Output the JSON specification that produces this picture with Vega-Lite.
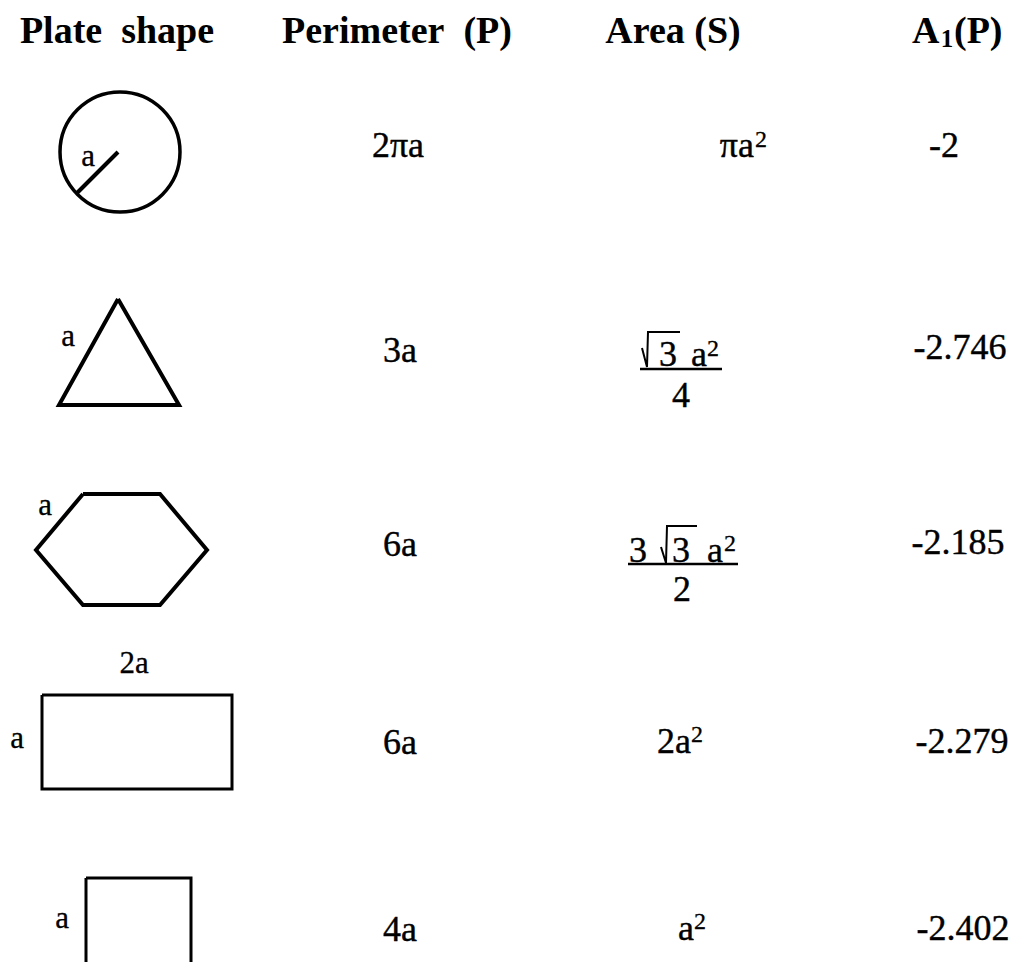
{
  "$schema": "https://vega.github.io/schema/vega-lite/v6.json",
  "width": 1018,
  "height": 962,
  "autosize": {"type": "fit", "contains": "padding"},
  "padding": 0,
  "background": "white",
  "config": {"view": {"stroke": null}, "font": "Liberation Serif"},
  "encoding": {
    "x": {"field": "x", "type": "quantitative", "scale": {"domain": [0, 1018], "nice": false, "zero": false}, "axis": null},
    "y": {"field": "y", "type": "quantitative", "scale": {"domain": [0, 962], "nice": false, "zero": false, "reverse": true}, "axis": null}
  },
  "layer": [
    {
      "data": {"values": [
        {"shape": "triangle", "i": 0, "x": 118, "y": 299},
        {"shape": "triangle", "i": 1, "x": 179, "y": 405},
        {"shape": "triangle", "i": 2, "x": 59, "y": 405},
        {"shape": "triangle", "i": 3, "x": 118, "y": 299},
        {"shape": "hexagon", "i": 0, "x": 83, "y": 494},
        {"shape": "hexagon", "i": 1, "x": 160, "y": 494},
        {"shape": "hexagon", "i": 2, "x": 207, "y": 550},
        {"shape": "hexagon", "i": 3, "x": 160, "y": 605},
        {"shape": "hexagon", "i": 4, "x": 83, "y": 605},
        {"shape": "hexagon", "i": 5, "x": 36, "y": 550},
        {"shape": "hexagon", "i": 6, "x": 83, "y": 494},
        {"shape": "radius", "i": 0, "x": 77, "y": 193},
        {"shape": "radius", "i": 1, "x": 118, "y": 152}
      ]},
      "mark": {"type": "line", "color": "black", "strokeWidth": 4, "strokeJoin": "miter", "strokeCap": "butt"},
      "encoding": {"detail": {"field": "shape"}, "order": {"field": "i", "type": "quantitative"}}
    },
    {
      "data": {"values": [
        {"shape": "rectangle", "i": 0, "x": 42, "y": 695},
        {"shape": "rectangle", "i": 1, "x": 232, "y": 695},
        {"shape": "rectangle", "i": 2, "x": 232, "y": 789},
        {"shape": "rectangle", "i": 3, "x": 42, "y": 789},
        {"shape": "rectangle", "i": 4, "x": 42, "y": 695},
        {"shape": "square", "i": 0, "x": 86, "y": 878},
        {"shape": "square", "i": 1, "x": 191, "y": 878},
        {"shape": "square", "i": 2, "x": 191, "y": 983},
        {"shape": "square", "i": 3, "x": 86, "y": 983},
        {"shape": "square", "i": 4, "x": 86, "y": 878}
      ]},
      "mark": {"type": "line", "color": "black", "strokeWidth": 3, "strokeJoin": "miter", "clip": true},
      "encoding": {"detail": {"field": "shape"}, "order": {"field": "i", "type": "quantitative"}}
    },
    {
      "data": {"values": [{"x": 120, "y": 152}]},
      "mark": {"type": "point", "shape": "circle", "size": 14400, "filled": false, "color": "black", "strokeWidth": 3.5, "opacity": 1}
    },
    {
      "data": {"values": [
        {"r": "tri", "i": 0, "x": 642, "y": 348},
        {"r": "tri", "i": 1, "x": 647, "y": 367},
        {"r": "tri", "i": 2, "x": 648, "y": 332},
        {"r": "tri", "i": 3, "x": 680, "y": 332},
        {"r": "hex", "i": 0, "x": 661, "y": 547},
        {"r": "hex", "i": 1, "x": 666, "y": 563},
        {"r": "hex", "i": 2, "x": 667, "y": 526},
        {"r": "hex", "i": 3, "x": 697, "y": 526}
      ]},
      "mark": {"type": "line", "color": "black", "strokeWidth": 2, "strokeJoin": "miter"},
      "encoding": {"detail": {"field": "r"}, "order": {"field": "i", "type": "quantitative"}}
    },
    {
      "data": {"values": [
        {"x": 640, "x2": 722, "y": 369},
        {"x": 628, "x2": 738, "y": 564}
      ]},
      "mark": {"type": "rule", "color": "black", "strokeWidth": 2.5},
      "encoding": {"x2": {"field": "x2"}}
    },
    {
      "data": {"values": [
        {"label": "Plate\u00a0 shape", "x": 117, "y": 43},
        {"label": "Perimeter\u00a0 (P)", "x": 397, "y": 43},
        {"label": "Area (S)", "x": 673, "y": 43}
      ]},
      "mark": {"type": "text", "font": "Liberation Serif", "fontWeight": "bold", "fontSize": 38, "align": "center", "baseline": "alphabetic", "color": "black"},
      "encoding": {"text": {"field": "label"}}
    },
    {
      "data": {"values": [
        {"label": "A", "x": 912, "y": 43},
        {"label": "(P)", "x": 954, "y": 43}
      ]},
      "mark": {"type": "text", "font": "Liberation Serif", "fontWeight": "bold", "fontSize": 38, "align": "left", "baseline": "alphabetic", "color": "black"},
      "encoding": {"text": {"field": "label"}}
    },
    {
      "data": {"values": [{"label": "1", "x": 947, "y": 47}]},
      "mark": {"type": "text", "font": "Liberation Serif", "fontWeight": "bold", "fontSize": 25, "align": "center", "baseline": "alphabetic", "color": "black"},
      "encoding": {"text": {"field": "label"}}
    },
    {
      "data": {"values": [
        {"label": "2πa", "x": 398, "y": 157},
        {"label": "3a", "x": 400, "y": 362},
        {"label": "6a", "x": 400, "y": 556},
        {"label": "6a", "x": 400, "y": 754},
        {"label": "4a", "x": 400, "y": 941},
        {"label": "-2", "x": 944, "y": 157},
        {"label": "-2.746", "x": 960, "y": 359},
        {"label": "-2.185", "x": 958, "y": 554},
        {"label": "-2.279", "x": 962, "y": 753},
        {"label": "-2.402", "x": 963, "y": 940},
        {"label": "3", "x": 668, "y": 366},
        {"label": "a", "x": 699, "y": 366},
        {"label": "4", "x": 681, "y": 407},
        {"label": "3", "x": 638, "y": 562},
        {"label": "3", "x": 681, "y": 562},
        {"label": "a", "x": 715, "y": 562},
        {"label": "2", "x": 682, "y": 601}
      ]},
      "mark": {"type": "text", "font": "Liberation Serif", "fontSize": 36, "align": "center", "baseline": "alphabetic", "color": "black", "stroke": "black", "strokeWidth": 0.4},
      "encoding": {"text": {"field": "label"}}
    },
    {
      "data": {"values": [
        {"label": "πa", "x": 754, "y": 157},
        {"label": "2a", "x": 691, "y": 753},
        {"label": "a", "x": 694, "y": 940}
      ]},
      "mark": {"type": "text", "font": "Liberation Serif", "fontSize": 36, "align": "right", "baseline": "alphabetic", "color": "black", "stroke": "black", "strokeWidth": 0.4},
      "encoding": {"text": {"field": "label"}}
    },
    {
      "data": {"values": [
        {"label": "2", "x": 755, "y": 147},
        {"label": "2", "x": 691, "y": 742},
        {"label": "2", "x": 694, "y": 929},
        {"label": "2", "x": 707, "y": 356},
        {"label": "2", "x": 724, "y": 551}
      ]},
      "mark": {"type": "text", "font": "Liberation Serif", "fontSize": 24, "align": "left", "baseline": "alphabetic", "color": "black", "stroke": "black", "strokeWidth": 0.3},
      "encoding": {"text": {"field": "label"}}
    },
    {
      "data": {"values": [
        {"label": "a", "x": 88, "y": 166},
        {"label": "a", "x": 68, "y": 346},
        {"label": "a", "x": 45, "y": 515},
        {"label": "2a", "x": 134, "y": 673},
        {"label": "a", "x": 17, "y": 748},
        {"label": "a", "x": 62, "y": 928}
      ]},
      "mark": {"type": "text", "font": "Liberation Serif", "fontSize": 31, "align": "center", "baseline": "alphabetic", "color": "black", "stroke": "black", "strokeWidth": 0.3},
      "encoding": {"text": {"field": "label"}}
    }
  ]
}
